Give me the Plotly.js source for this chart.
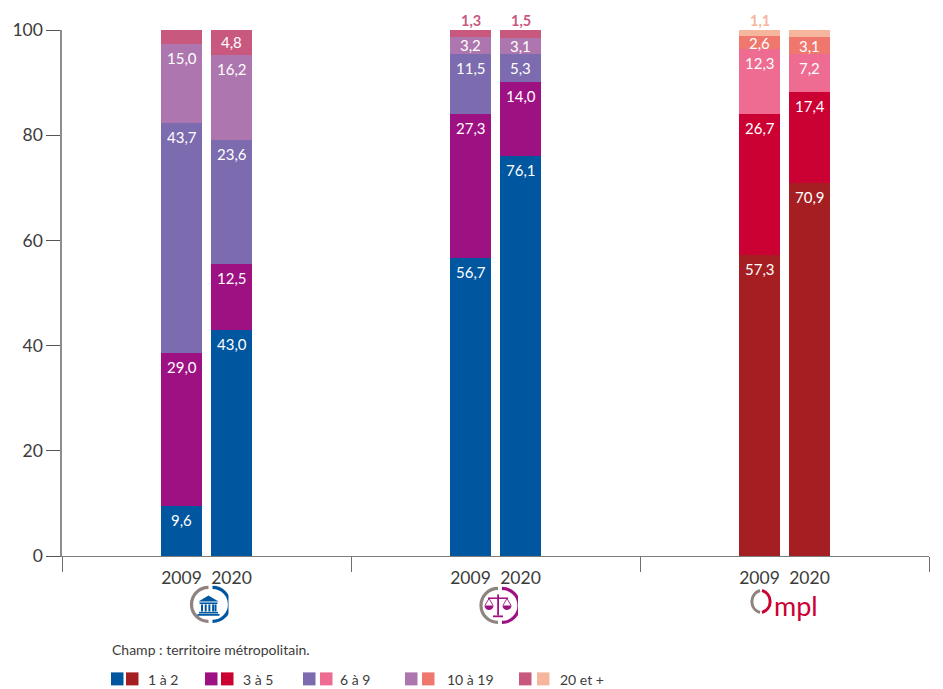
<!DOCTYPE html>
<html><head><meta charset="utf-8">
<script src="https://cdn.plot.ly/plotly-3.0.1.min.js"></script>
<style>html,body{margin:0;padding:0;background:#fff}#c{width:943px;height:689px}</style></head>
<body><div id="c"></div>
<script>
const groups=[0,1,2];
const years=['2009','2020'];
const classes=['1 à 2','3 à 5','6 à 9','10 à 19','20 et +'];
// values: [group0-2009, group0-2020, group1-2009, group1-2020, group2-2009, group2-2020]
const v1a2=[9.6,43.0,56.7,76.1,57.3,70.9];
const v3a5=[29.0,12.5,27.3,14.0,26.7,17.4];
const v6a9=[43.7,23.6,11.5,5.3,12.3,7.2];
const v10a19=[15.0,16.2,3.2,3.1,2.6,3.1];
const v20p=[2.7,4.8,1.3,1.5,1.1,1.4];
const series=[v1a2,v3a5,v6a9,v10a19,v20p];
const colA=['#00569F','#9E1183','#7C6BAE','#AE76AE','#C9587F'];
const colB=['#A51E22','#CB0033','#EE6B92','#F0776E','#F6B59D'];
const FONT='Futura, "Century Gothic", Lato, sans-serif';
const W=943,H=689,L=62,R=929,T=30,B=556.5;
const off=25/289, bw=41/289;
const xs=[];groups.forEach(g=>{xs.push(g-off);xs.push(g+off)});
const isB=i=>i>=4;
const traces=series.map((vals,k)=>({
  type:'bar',x:xs,y:vals,width:bw,name:classes[k],showlegend:false,hoverinfo:'skip',
  marker:{color:vals.map((_,i)=>isB(i)?colB[k]:colA[k]),line:{width:0}}
}));
const annotations=[];
const fmt=n=>n.toFixed(1).replace('.',',');
xs.forEach((x,i)=>{
  let top=series.reduce((s,a)=>s+a[i],0);
  for(let k=4;k>=0;k--){
    const val=series[k][i];
    const outside=k===4&&val<2.8;
    const small=val<6;
    annotations.push({xref:'x',yref:'y',x:x,y:outside?top:(small?top-val/2:top),
      yanchor:outside?'bottom':'middle',yshift:outside?-1:(small?0:-14),
      text:outside?'<b>'+fmt(val)+'</b>':fmt(val),showarrow:false,
      font:{family:FONT,size:outside?14.5:15,color:outside?(isB(i)?colB[k]:colA[k]):'#fff'}});
    top-=val;
  }
});
const px=x=>x/W, py=y=>1-(y-0)/H; // page pixel helpers
const plotX=x=>(x-L)/(R-L), plotY=y=>(B-y)/(B-T);
function note(x,y,text,size,color,extra){annotations.push(Object.assign({xref:'paper',yref:'paper',x:plotX(x),y:plotY(y),xanchor:'left',yanchor:'middle',text,showarrow:false,font:{family:FONT,size,color:color||'#3c3c3b'}},extra||{}));}
note(110,650.5,'Champ : territoire métropolitain.',14);
const shapes=[];
const legendPos=[[111,126,146],[205,221,241],[303,320,338],[405,422,445],[519,537,558]];
classes.forEach((c,k)=>{
  const p=legendPos[k];
  [[p[0],colA[k]],[p[1],colB[k]]].forEach(([x,col])=>{
    shapes.push({type:'rect',xref:'paper',yref:'paper',x0:plotX(x),x1:plotX(x+12.5),y0:plotY(686),y1:plotY(673),fillcolor:col,line:{width:0}});
  });
  note(p[2],680,c,14);
});
function svgUri(w,h,body){return 'data:image/svg+xml;utf8,'+encodeURIComponent('<svg xmlns="http://www.w3.org/2000/svg" width="'+w+'" height="'+h+'" viewBox="0 0 '+w+' '+h+'">'+body+'</svg>');}
function ring(c,gray){
  return '<path d="M16 3 A16 16 0 0 0 16 37" transform="translate(4,0)" fill="none" stroke="'+gray+'" stroke-width="3.2"/>'+
         '<path d="M24 3 A16 16 0 0 1 24 37" fill="none" stroke="'+c+'" stroke-width="3.2"/>';
}
const GRAY='#8E837E';
const bank='<path d="M20 11 L30 17 L10 17 Z" fill="#00569F"/><rect x="11" y="18" width="18" height="1.6" fill="#00569F"/>'+
 [12.5,16.2,19.9,23.6,26].map(x=>'<rect x="'+x+'" y="20" width="2" height="7" fill="#00569F"/>').join('')+
 '<rect x="10.5" y="27.4" width="19" height="1.6" fill="#00569F"/><rect x="9" y="29.5" width="22" height="1.8" fill="#00569F"/>';
const M='#9E1183';
const scale='<rect x="19.2" y="9" width="1.8" height="21" fill="'+M+'"/><rect x="15" y="30" width="10" height="1.8" fill="'+M+'"/>'+
 '<rect x="10" y="12" width="20" height="1.5" fill="'+M+'"/>'+
 '<path d="M7 20 L11 13 L15 20 M25 20 L29 13 L33 20" fill="none" stroke="'+M+'" stroke-width="0.9"/>'+
 '<path d="M6.5 20 H15.5 A4.5 4.5 0 0 1 6.5 20 Z M24.5 20 H33.5 A4.5 4.5 0 0 1 24.5 20 Z" fill="'+M+'"/>';
const ompO='<path d="M13 1.5 A11.5 11.5 0 0 0 13 23.5" fill="none" stroke="'+GRAY+'" stroke-width="3"/>'+
 '<path d="M15 1.5 A11.5 11.5 0 0 1 15 23.5" fill="none" stroke="#CB0033" stroke-width="3"/>';
function img(src,x,y,w,h){return {source:src,xref:'paper',yref:'paper',x:plotX(x),y:plotY(y),sizex:w/(R-L),sizey:h/(B-T),xanchor:'left',yanchor:'top',sizing:'stretch',layer:'above'};}
const images=[
  img(svgUri(40,40,ring('#00569F',GRAY)+bank),188.5,585,40,40),
  img(svgUri(40,40,ring(M,GRAY)+scale),478,586,40,40),
  img(svgUri(28,25,ompO),747,589.5,28,25)
];
note(772,606,'mpl',27,'#CB0033',{font:{family:'"Century Gothic", Lato, sans-serif',size:27,color:'#CB0033'}});
const layout={
  width:W,height:H,margin:{l:L,r:W-R,t:T,b:H-B,pad:0},
  paper_bgcolor:'#fff',plot_bgcolor:'#fff',barmode:'stack',showlegend:false,
  font:{family:FONT,color:'#3c3c3b',size:17},
  xaxis:{range:[-0.5,2.5],tickmode:'array',tickvals:xs,ticktext:xs.map((_,i)=>years[i%2]),ticks:'',
    showgrid:false,zeroline:false,showline:true,linecolor:'#7d7d7d',linewidth:1.2,
    tickfont:{family:FONT,size:17.5,color:'#3c3c3b'},ticklabelstandoff:6,
    minor:{tickmode:'linear',tick0:-0.5,dtick:1,ticks:'outside',ticklen:15,tickcolor:'#6f6f6f',tickwidth:1,showgrid:false}},
  yaxis:{range:[0,100],tickmode:'array',tickvals:[0,20,40,60,80,100],ticktext:['0','20','40','60','80','100'],
    ticks:'outside',ticklen:14,tickcolor:'#555',tickwidth:1,showgrid:false,zeroline:false,showline:true,linecolor:'#908c8c',linewidth:1.6,
    tickfont:{family:FONT,size:17.5,color:'#3c3c3b'}},
  annotations,shapes,images
};
Plotly.newPlot('c',traces,layout,{displayModeBar:false,staticPlot:true});
</script></body></html>
